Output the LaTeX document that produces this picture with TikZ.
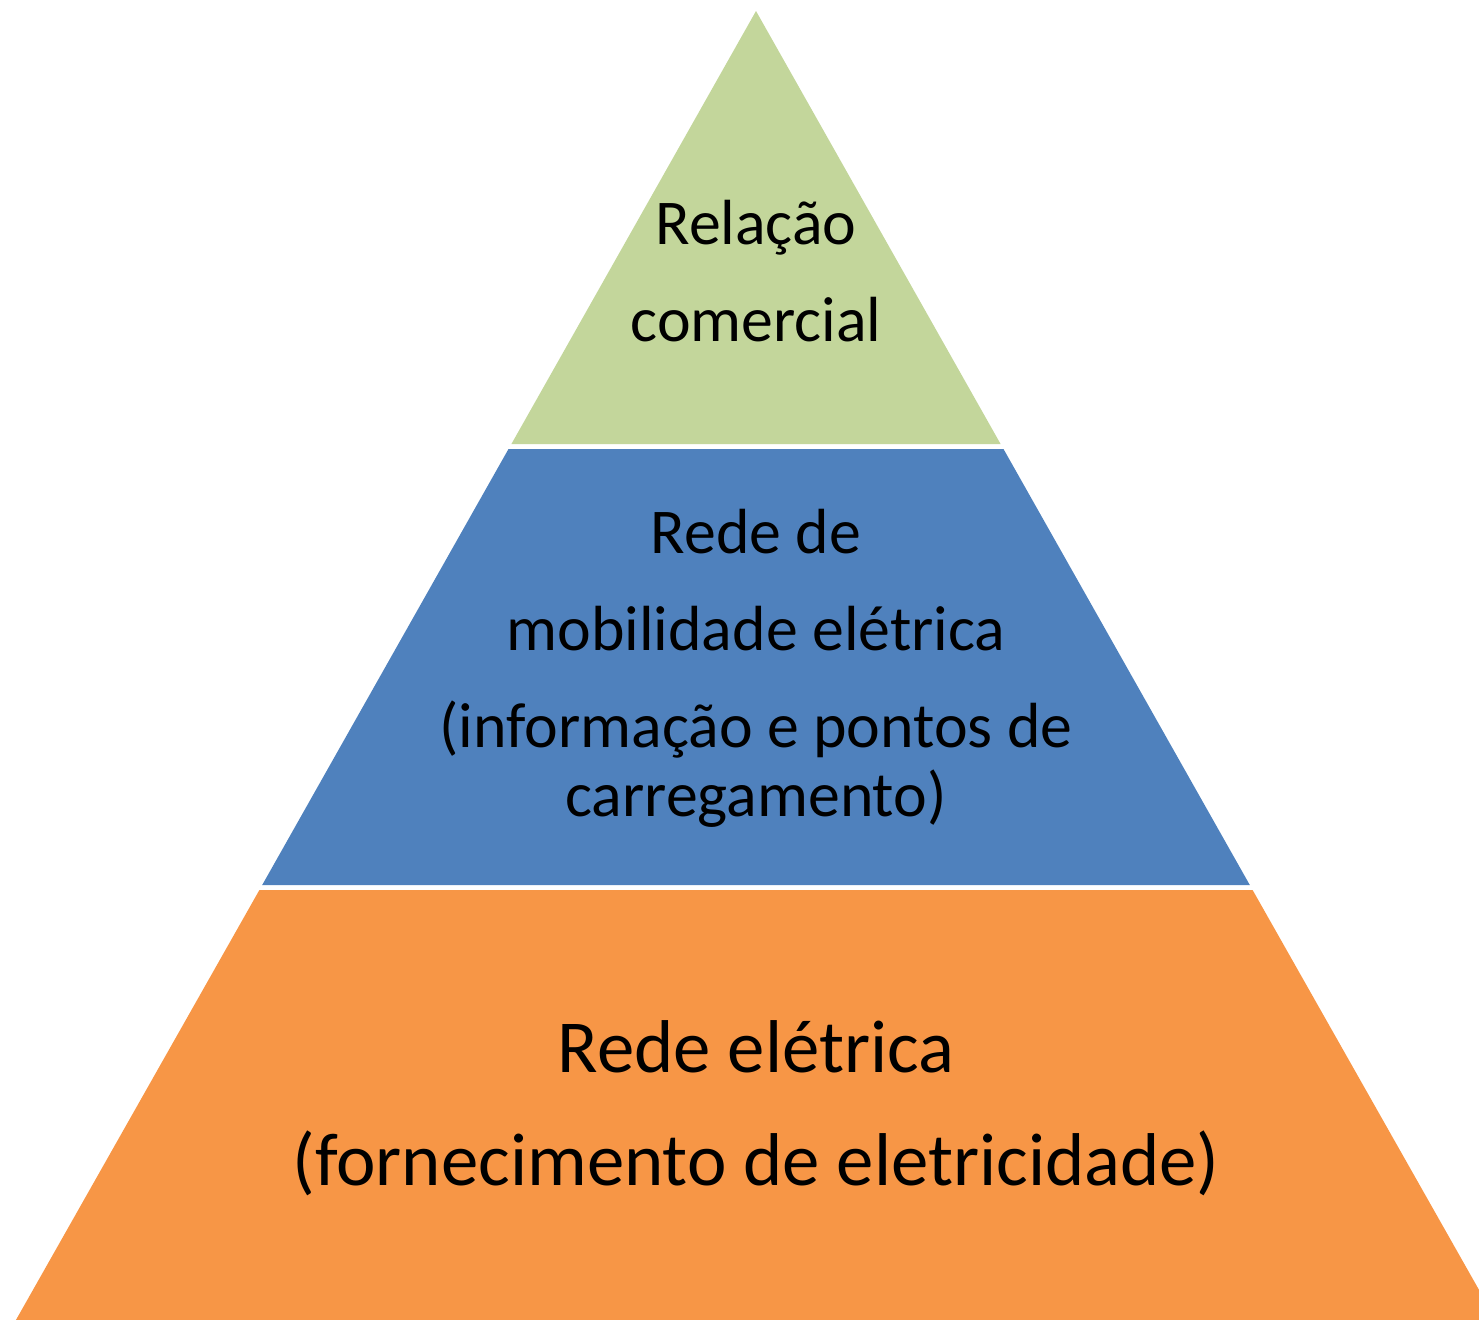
\documentclass[tikz,border=0pt]{standalone}
\usepackage{fontspec}
\setmainfont{Carlito}
\usetikzlibrary{positioning}
\definecolor{topgreen}{RGB}{195,214,155}
\definecolor{midblue}{RGB}{79,129,189}
\definecolor{baseorange}{RGB}{247,150,70}
\tikzset{line/.style={anchor=base,inner sep=0pt,text=black}}
\tikzset{small/.style={line,font=\fontsize{31.9}{36}\selectfont}}
\tikzset{big/.style={line,font=\fontsize{37.4}{44}\selectfont}}

\begin{document}
\begin{tikzpicture}[x=0.5pt,y=-0.5pt]
        \useasboundingbox (0,0) rectangle (1479,1319);
        \clip (0,0) rectangle (1479,1319);
        % layers of the pyramid
        \fill[topgreen] (756,11) -- (1000.6,444) -- (511.4,444) -- cycle;
        \fill[midblue] (508.5,449) -- (1003.5,449) -- (1249.8,885) -- (262.2,885) -- cycle;
        \fill[baseorange] (259.4,890) -- (1252.6,890) -- (1498.9,1325) -- (13.1,1325) -- cycle;
        % top
        \node(relacao)[small] at (756,244) {Relação};
        \node(comercial)[small] at (756,341) {comercial};
        % middle
        \node(rede)[small] at (756,553) {Rede de};
        \node(mobilidade)[small] at (756,650) {mobilidade elétrica};
        \node(informacao)[small] at (756,747) {(informação e pontos de};
        \node(carregamento)[small] at (756,816) {carregamento)};
        % base
        \node(eletrica)[big] at (756,1072) {Rede elétrica};
        \node(fornecimento)[big] at (756,1185) {(fornecimento de eletricidade)};
      \end{tikzpicture}
\end{document}
